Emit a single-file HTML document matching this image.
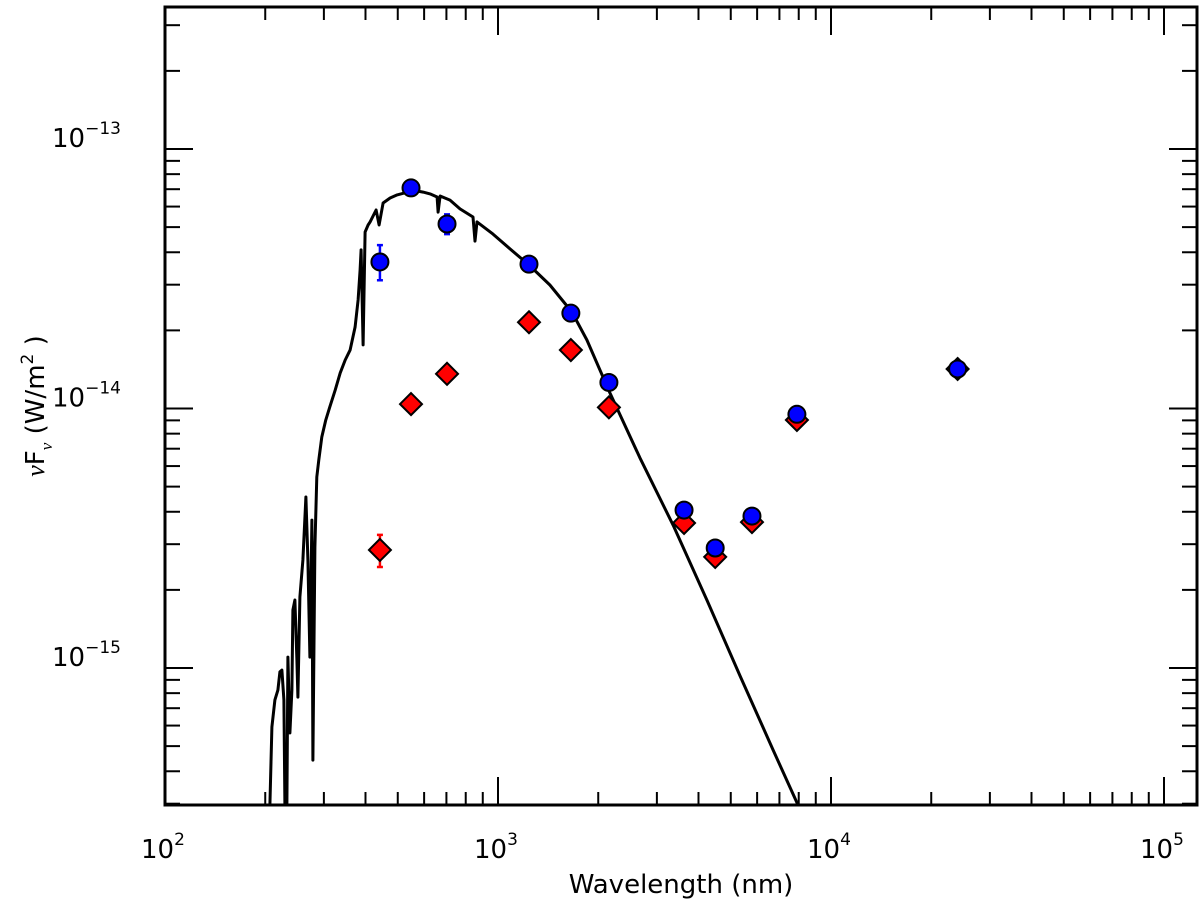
<!DOCTYPE html>
<html><head><meta charset="utf-8">
<style>
html,body{margin:0;padding:0;background:#fff;}
svg text{font-family:"DejaVu Sans","Liberation Sans",sans-serif;fill:#000;}
</style></head>
<body>
<svg id="chart" width="1200" height="905" viewBox="0 0 1200 905" xmlns="http://www.w3.org/2000/svg">
<g id="grid-ticks"></g>
<g id="model"></g>
<g id="red"></g>
<g id="blue"></g>
<rect x="165" y="7" width="1032" height="798" fill="none" stroke="#000" stroke-width="3"/>
<g id="labels"></g>
<text x="681" y="893" font-size="26" text-anchor="middle">Wavelength (nm)</text>
<text transform="translate(44,406) rotate(-90)" font-size="26" text-anchor="middle"><tspan font-family="Liberation Serif" font-style="italic">ν</tspan>F<tspan font-size="17" dy="8" font-family="Liberation Serif" font-style="italic">ν</tspan><tspan dy="-8"> (W/m</tspan><tspan font-size="17" dy="-11">2</tspan><tspan dy="11"> )</tspan></text>
</svg>
<script>
const wavelengths = [442, 548, 703, 1239, 1655, 2153, 3620, 4490, 5790, 7900, 24000];
const blueFlux = [3.67e-14, 7.08e-14, 5.14e-14, 3.6e-14, 2.33e-14, 1.26e-14, 4.06e-15, 2.9e-15, 3.85e-15, 9.5e-15, 1.42e-14];
const blueErrLo = [3.12e-14, 0, 4.7e-14, 0, 0, 0, 0, 0, 0, 0, 0];
const blueErrHi = [4.26e-14, 0, 5.6e-14, 0, 0, 0, 0, 0, 0, 0, 0];
const redFlux = [2.85e-15, 1.04e-14, 1.36e-14, 2.15e-14, 1.68e-14, 1.01e-14, 3.62e-15, 2.68e-15, 3.65e-15, 9.03e-15, 1.42e-14];
const redErrLo = [2.45e-15, 0, 0, 0, 0, 0, 0, 0, 0, 0, 0];
const redErrHi = [3.26e-15, 0, 0, 0, 0, 0, 0, 0, 0, 0, 0];
const modelLogLambda = [2.315,2.321,2.330,2.339,2.345,2.351,2.357,2.360,2.366,2.369,2.375,2.381,2.384,2.390,2.396,2.399,2.405,2.414,2.423,2.429,2.435,2.441,2.444,2.450,2.456,2.462,2.471,2.483,2.495,2.511,2.526,2.541,2.556,2.571,2.580,2.586,2.589,2.595,2.601,2.610,2.616,2.634,2.643,2.655,2.676,2.697,2.718,2.739,2.757,2.775,2.796,2.817,2.820,2.826,2.856,2.886,2.925,2.931,2.937,2.985,3.036,3.093,3.156,3.222,3.267,3.336,3.426,3.526,3.628,3.727,3.826,3.901];
const modelLogFlux = [-15.6,-15.227,-15.123,-15.085,-15.015,-15.008,-15.123,-15.6,-15.6,-14.958,-15.250,-15.085,-14.776,-14.738,-14.969,-15.112,-14.726,-14.584,-14.341,-14.584,-14.958,-14.430,-15.355,-14.534,-14.264,-14.198,-14.110,-14.044,-13.994,-13.929,-13.863,-13.813,-13.775,-13.686,-13.582,-13.466,-13.389,-13.755,-13.320,-13.293,-13.281,-13.235,-13.293,-13.208,-13.189,-13.177,-13.170,-13.158,-13.162,-13.166,-13.173,-13.185,-13.243,-13.181,-13.197,-13.231,-13.262,-13.355,-13.281,-13.328,-13.385,-13.447,-13.524,-13.628,-13.736,-13.940,-14.190,-14.450,-14.740,-15.031,-15.316,-15.528];
const xTickExps = [2, 3, 4, 5];
const yTickExps = [-13, -14, -15];

const X0 = 165, XDEC = 333, Y0 = 149, YDEC = 259.5, TOP = 7, BOT = 805, LEFT = 165, RIGHT = 1197;
function xs(v){ return X0 + (Math.log10(v) - 2) * XDEC; }
function xsl(l){ return X0 + (l - 2) * XDEC; }
function ys(v){ return Y0 + (-13 - Math.log10(v)) * YDEC; }
function ysl(l){ return Y0 + (-13 - l) * YDEC; }
const NS = 'http://www.w3.org/2000/svg';
function mk(tag, attrs, parent){ const e = document.createElementNS(NS, tag); for (const k in attrs) e.setAttribute(k, attrs[k]); parent.appendChild(e); return e; }

const tg = document.getElementById('grid-ticks');
for (let d = 2; d <= 5; d++) {
  for (let m = 1; m <= 9; m++) {
    const v = m * Math.pow(10, d); const x = xs(v);
    if (x < LEFT - 1 || x > RIGHT + 1) continue;
    const len = m === 1 ? 28 : 13;
    const t1 = mk('line', {x1:x, x2:x, y1:BOT, y2:BOT-len, stroke:'#000', 'stroke-width':2}, tg);
    
    
    const t2 = mk('line', {x1:x, x2:x, y1:TOP, y2:TOP+len, stroke:'#000', 'stroke-width':2}, tg);
    
    
  }
}
for (let d = -16; d <= -13; d++) {
  for (let m = 1; m <= 9; m++) {
    const v = m * Math.pow(10, d); const y = ys(v);
    if (y < TOP - 1 || y > BOT + 1) continue;
    const len = m === 1 ? 28 : 15;
    const t1 = mk('line', {x1:LEFT, x2:LEFT+len, y1:y, y2:y, stroke:'#000', 'stroke-width':2}, tg);
    
    
    const t2 = mk('line', {x1:RIGHT, x2:RIGHT-len, y1:y, y2:y, stroke:'#000', 'stroke-width':2}, tg);
    
    
  }
}
const lg = document.getElementById('labels');
xTickExps.forEach(e => {
  const x = xs(Math.pow(10, e));
  const t = mk('text', {x:x-24, y:858, 'font-size':26}, lg);
  
  
  t.innerHTML = '10<tspan font-size="17" dy="-13">' + e + '</tspan>';
});
yTickExps.forEach(e => {
  const y = ys(Math.pow(10, e));
  const t = mk('text', {x:52, y:y-2, 'font-size':26}, lg);
  
  
  t.innerHTML = '10<tspan font-size="17" dy="-13">\u2212' + (-e) + '</tspan>';
});

const mg = document.getElementById('model');
let dstr = '';
modelLogLambda.forEach((l, i) => { dstr += (i ? 'L' : 'M') + xsl(l).toFixed(1) + ',' + Math.min(BOT, ysl(modelLogFlux[i])).toFixed(1); });
const mp = mk('path', {d:dstr, fill:'none', stroke:'#000', 'stroke-width':3, 'stroke-linejoin':'round'}, mg);



function errbar(g, i, lo, hi, color){
  if (!lo[i]) return;
  const x = xs(wavelengths[i]);
  const e = mk('path', {d:`M${x},${ys(hi[i])}V${ys(lo[i])}M${x-3},${ys(hi[i])}H${x+3}M${x-3},${ys(lo[i])}H${x+3}`, stroke:color, 'stroke-width':2.5, fill:'none'}, g);
  
  
}
const rg = document.getElementById('red');
redFlux.forEach((v, i) => {
  errbar(rg, i, redErrLo, redErrHi, '#ff0000');
  const x = xs(wavelengths[i]), y = ys(v), r = 11;
  const p = mk('polygon', {points:`${x},${y-r} ${x+r},${y} ${x},${y+r} ${x-r},${y}`, fill:'#ff0000', stroke:'#000', 'stroke-width':2}, rg);
  
  
});
const bg = document.getElementById('blue');
blueFlux.forEach((v, i) => {
  errbar(bg, i, blueErrLo, blueErrHi, '#0000ff');
  const c = mk('circle', {cx:xs(wavelengths[i]), cy:ys(v), r:8.5, fill:'#0000ff', stroke:'#000', 'stroke-width':2}, bg);
  
  
});
</script>
</body></html>
